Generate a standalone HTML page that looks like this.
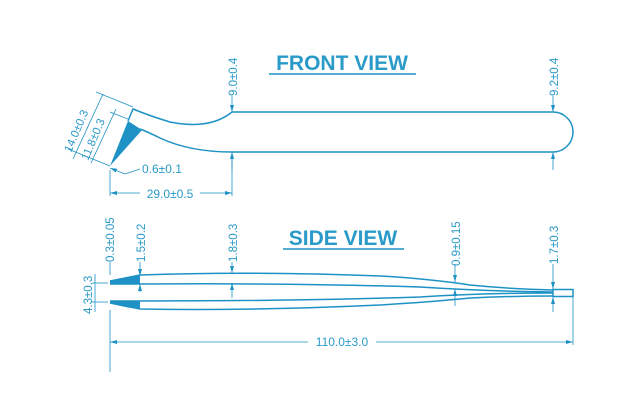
<!DOCTYPE html>
<html><head><style>
body{margin:0;background:#fff;}
svg{display:block}
text{font-family:"Liberation Sans",sans-serif;fill:#2a9ac8}
</style></head><body>
<svg width="640" height="400" viewBox="0 0 640 400" xmlns="http://www.w3.org/2000/svg">
<defs>
<marker id="a" markerWidth="8" markerHeight="6" refX="7" refY="3" orient="auto-start-reverse" markerUnits="userSpaceOnUse"><path d="M0,1 L7,3 L0,5z" fill="#1e92c4"/></marker>
</defs>
<g fill="none" stroke="#1e92c4" stroke-width="1.5">
<path d="M232,112 L553,112 A20,20 0 0 1 553,152 L232,152"/>
<path d="M232,112 Q210,130 170,122 Q150,116 133,109 L128,121"/>
<path d="M232,152 Q190,152 160,138 Q148,132 140,129"/>
<path d="M110,281 L140,275 Q250,271 380,276 Q430,279 470,285 Q510,289 553,290"/>
<path d="M110,284 L140,284 Q300,283 420,287 Q480,291 553,292"/>
<path d="M110,301 L140,301 Q300,301 420,297 Q480,293 553,293"/>
<path d="M110,303 L140,309 Q250,311 380,305 Q430,302 470,298 Q510,296 553,296"/>
<rect x="553" y="289.5" width="20" height="7"/>
</g>
<path d="M128,121 L142,130 L110,166 Z" fill="#1e92c4"/>
<path d="M110,281 L140,275 L140,284 L110,284Z" fill="#1e92c4"/>
<path d="M110,301 L140,301 L140,309 Q125,308 110,303Z" fill="#1e92c4"/>
<g stroke="#1e92c4" stroke-width="0.8" fill="none">
<line x1="232" y1="96" x2="232" y2="112" marker-end="url(#a)"/>
<line x1="232" y1="170" x2="232" y2="152" marker-end="url(#a)"/>
<line x1="232" y1="155" x2="232" y2="196"/>
<line x1="553" y1="96" x2="553" y2="112" marker-end="url(#a)"/>
<line x1="553" y1="170" x2="553" y2="152" marker-end="url(#a)"/>
<line x1="110" y1="170" x2="110" y2="196"/>
<line x1="110" y1="193" x2="232" y2="193" marker-start="url(#a)" marker-end="url(#a)"/>
<line x1="110" y1="168" x2="125" y2="174" marker-start="url(#a)"/>
<line x1="125" y1="174" x2="140" y2="169"/>
<line x1="133" y1="107" x2="96" y2="92"/>
<line x1="110" y1="166" x2="68" y2="149"/>
<line x1="128" y1="119" x2="110" y2="112"/>
<line x1="103" y1="94" x2="73" y2="159"/>
<line x1="116" y1="109" x2="91" y2="163"/>
<line x1="110" y1="262" x2="110" y2="275"/>
<line x1="110" y1="310" x2="110" y2="372"/>
<line x1="140" y1="262" x2="140" y2="276" marker-end="url(#a)"/>
<line x1="140" y1="292" x2="140" y2="284" marker-end="url(#a)"/>
<line x1="232" y1="262" x2="232" y2="273" marker-end="url(#a)"/>
<line x1="232" y1="298" x2="232" y2="283" marker-end="url(#a)"/>
<line x1="455" y1="264" x2="455" y2="282" marker-end="url(#a)"/>
<line x1="455" y1="306" x2="455" y2="289" marker-end="url(#a)"/>
<line x1="553" y1="264" x2="553" y2="289" marker-end="url(#a)"/>
<line x1="553" y1="312" x2="553" y2="297" marker-end="url(#a)"/>
<line x1="573" y1="297" x2="573" y2="345"/>
<line x1="110" y1="342" x2="573" y2="342" marker-start="url(#a)" marker-end="url(#a)"/>
<line x1="95" y1="274" x2="95" y2="312"/>
<line x1="92" y1="283" x2="108" y2="283"/>
<line x1="92" y1="302" x2="108" y2="302"/>
</g>
<rect x="308" y="336" width="68" height="12" fill="#fff"/>
<text x="342" y="346" font-size="12" text-anchor="middle">110.0±3.0</text>
<rect x="140" y="187" width="60" height="12" fill="#fff"/>
<text x="170" y="198" font-size="12" text-anchor="middle">29.0±0.5</text>
<text x="142" y="173" font-size="12">0.6±0.1</text>
<text x="342" y="70" font-size="21" font-weight="bold" text-anchor="middle">FRONT VIEW</text>
<line x1="269" y1="74" x2="416" y2="74" stroke="#1e92c4" stroke-width="1.5"/>
<text x="343" y="245" font-size="21" font-weight="bold" text-anchor="middle">SIDE VIEW</text>
<line x1="283" y1="249" x2="404" y2="249" stroke="#1e92c4" stroke-width="1.5"/>
<g font-size="11.5">
<text transform="translate(237,96) rotate(-90)">9.0±0.4</text>
<text transform="translate(558,96) rotate(-90)">9.2±0.4</text>
<text transform="translate(114,262) rotate(-90)">0.3±0.05</text>
<text transform="translate(145,262) rotate(-90)">1.5±0.2</text>
<text transform="translate(237,262) rotate(-90)">1.8±0.3</text>
<text transform="translate(460,266) rotate(-90)">0.9±0.15</text>
<text transform="translate(558,264) rotate(-90)">1.7±0.3</text>
<text transform="translate(92,314) rotate(-90)">4.3±0.3</text>
<text transform="translate(71,153) rotate(-67)">14.0±0.3</text>
<text transform="translate(88,161) rotate(-67)">11.8±0.3</text>
</g>
</svg>
</body></html>
